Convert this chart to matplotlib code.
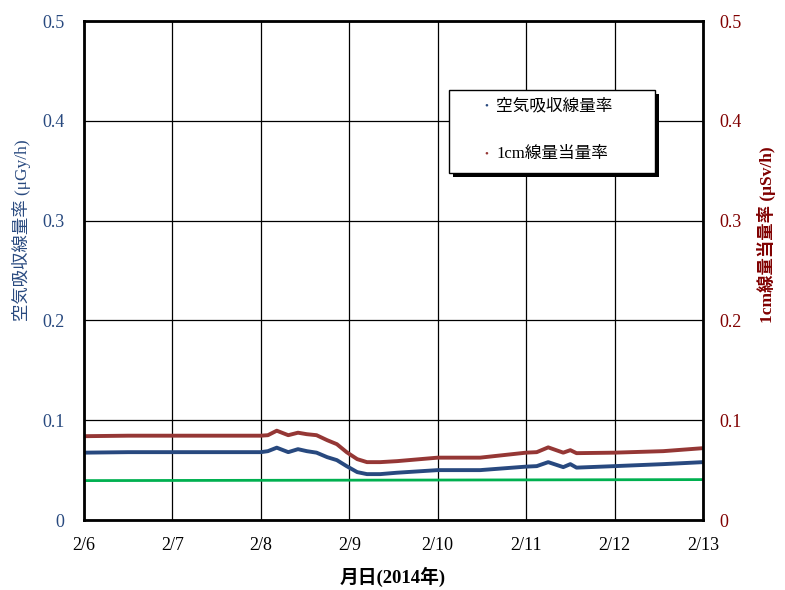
import matplotlib
matplotlib.use('Agg')
import matplotlib.pyplot as plt
from matplotlib.patches import Rectangle

plt.rcParams['font.family'] = ['Liberation Serif', 'Noto Sans CJK JP']

# days counted from 2/6 0:00
days_air = [0, 0.5, 1, 1.5, 2, 2.08, 2.18, 2.31, 2.42, 2.52, 2.63, 2.75, 2.86, 2.97,
            3.09, 3.2, 3.35, 3.54, 4.0, 4.48, 5.0, 5.12, 5.25, 5.42, 5.5, 5.57, 6.0, 6.55, 7.0]
air = [0.0675, 0.068, 0.068, 0.068, 0.068, 0.069, 0.0725, 0.068, 0.071, 0.069, 0.0675, 0.063,
       0.060, 0.054, 0.048, 0.046, 0.046, 0.0474, 0.050, 0.050, 0.0535, 0.054, 0.058, 0.053,
       0.056, 0.0525, 0.054, 0.056, 0.058]
dose = [0.084, 0.0845, 0.0845, 0.0845, 0.0845, 0.085, 0.0895, 0.085, 0.0875, 0.086, 0.085, 0.080,
        0.076, 0.068, 0.061, 0.058, 0.058, 0.059, 0.0625, 0.0625, 0.0675, 0.068, 0.0728, 0.0675,
        0.070, 0.067, 0.0675, 0.069, 0.072]
days_ref = [0, 7]
ref = [0.0395, 0.0405]

tick_labels = ['2/6', '2/7', '2/8', '2/9', '2/10', '2/11', '2/12', '2/13']
y_labels = ['0', '0.1', '0.2', '0.3', '0.4', '0.5']

blue = '#28497f'
red = '#953735'
green = '#00b050'
dark_red = '#800000'

fig = plt.figure(figsize=(7.85, 5.90), dpi=100)
ax = fig.add_axes([0.107, 0.1186, 0.7885, 0.8458])

ax.plot(days_ref, ref, color=green, lw=2)
ax.plot(days_air, air, color=blue, lw=2.8)
ax.plot(days_air, dose, color=red, lw=2.8)

ax.set_xlim(0, 7)
ax.set_ylim(0, 0.5)
ax.set_xticks(range(8))
ax.set_xticklabels(tick_labels)
ax.set_yticks([0, 0.1, 0.2, 0.3, 0.4, 0.5])
ax.set_yticklabels(y_labels)
ax.grid(True, color='black', lw=0.9)
ax.tick_params(length=0, labelsize=13)
ax.tick_params(axis='x', pad=12)
ax.tick_params(axis='y', pad=14, colors=blue)
for s in ax.spines.values():
    s.set_linewidth(2)

ax2 = ax.twinx()
ax2.set_ylim(0, 0.5)
ax2.set_yticks([0, 0.1, 0.2, 0.3, 0.4, 0.5])
ax2.set_yticklabels(y_labels)
ax2.tick_params(length=0, labelsize=13, pad=12, colors=dark_red)

fig.text(22 / 785, 1 - 230 / 590, '空気吸収線量率 (μGy/h)', color=blue, fontsize=12.5,
         rotation=90, ha='center', va='center')
fig.text(766 / 785, 1 - 235 / 590, '1cm線量当量率 (μSv/h)', color=dark_red, fontsize=12.5,
         fontweight='bold', rotation=90, ha='center', va='center')
fig.text(393 / 785, 1 - 577 / 590, '月日(2014年)', fontsize=13.5, fontweight='bold',
         ha='center', va='center')

# legend box with shadow
shadow = Rectangle((453, 413), 206, 83, transform=None, facecolor='black', zorder=5)
box = Rectangle((449, 417), 206, 83, transform=None, facecolor='white',
                edgecolor='black', lw=1, zorder=6)
fig.patches.extend([shadow, box])
fig.text(486 / 785, 1 - 106 / 590, '•', color=blue, fontsize=8, va='center', ha='center', zorder=7)
fig.text(496 / 785, 1 - 106 / 590, '空気吸収線量率', fontsize=12, va='center',
         family=['Noto Sans CJK JP'], zorder=7)
fig.text(486 / 785, 1 - 154 / 590, '•', color=red, fontsize=8, va='center', ha='center', zorder=7)
fig.text(496 / 785, 1 - 154 / 590, '1cm線量当量率', fontsize=12, va='center', zorder=7)

fig.savefig('out.png', dpi=100)
